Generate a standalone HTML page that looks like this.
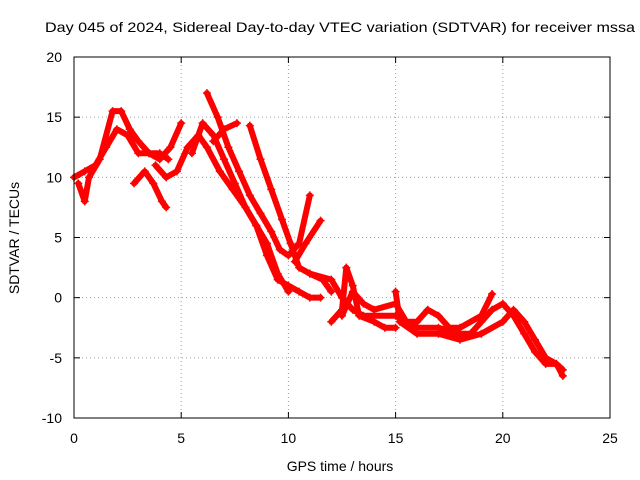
<!DOCTYPE html>
<html><head><meta charset="utf-8"><style>
body{margin:0;background:#fff;}
svg{display:block;font-family:"Liberation Sans",sans-serif;}
</style></head><body>
<svg id="chart" width="640" height="480">
<text x="45" y="32" font-size="14" textLength="590" lengthAdjust="spacingAndGlyphs">Day 045 of 2024, Sidereal Day-to-day VTEC variation (SDTVAR) for receiver mssa</text>
<text x="340" y="471" text-anchor="middle" font-size="14">GPS time / hours</text>
<text x="19" y="238" text-anchor="middle" font-size="14" transform="rotate(-90 19 238)">SDTVAR / TECUs</text>
<g id="grid"></g>
<g id="series"></g>
<rect x="74" y="57" width="536" height="361" fill="none" stroke="#000"/>
</svg>
<script>
const xTicks=[0,5,10,15,20,25];
const yTicks=[-10,-5,0,5,10,15,20];
const trackA=[[0,10],[0.5,10.5],[1,11],[1.5,12.5],[2,14],[2.5,13.5],[3,12],[3.5,12],[4,11.5],[4.5,12.5],[5,14.5]];
const trackB=[[0.2,9.5],[0.5,8],[0.7,10],[1.2,11.5],[1.8,15.5],[2.2,15.5],[2.6,14],[3,13],[3.5,12],[4,12],[4.4,11.5]];
const trackC=[[2.8,9.5],[3.3,10.5],[3.7,9.5],[4.1,8],[4.3,7.5]];
const trackD=[[3.8,11],[4.3,10],[4.8,10.5],[5.3,12.5],[5.8,13.5],[6.2,12.5],[6.8,10.5],[7.4,9],[8,7.5],[8.5,6],[9,4.5],[9.5,2],[10,0.5]];
const trackE=[[5.5,12],[6,14.5],[6.5,13.5],[7,11.5],[7.5,9.5],[8,7.5],[8.5,6],[9,3.5],[9.5,1.5],[10,1],[10.5,0.5],[11,0],[11.5,0]];
const trackF=[[6.2,17],[6.7,15],[7.2,12.5],[7.7,10.5],[8.2,8.5],[8.7,7],[9.2,5.5],[9.6,4],[10,3.5],[10.5,4.5],[11,8.5]];
const trackG=[[6.5,13],[7,14],[7.6,14.5]];
const trackH=[[8.2,14.3],[8.7,11.5],[9.2,9],[9.7,6.5],[10.1,4.5],[10.5,2.5],[11,2],[11.6,1.5],[12,0.5]];
const trackH2=[[10.3,3],[10.8,4.5],[11.5,6.4]];
const trackI=[[11,2],[12,1.5],[12.5,0],[13,-1],[13.5,-1.5],[14,-1.5],[15,-1.5],[15.5,-2],[16,-2.5],[17,-2.5],[18,-3],[18.5,-3],[19,-2],[19.5,-1],[20,-0.5],[20.5,-1.5],[21,-3],[21.5,-4.5],[22,-5.5],[22.5,-5.5],[22.8,-6.5]];
const trackJ=[[12.5,-1.5],[13,0.5],[13.5,-0.5],[14,-1],[15,-0.5],[15.5,-2],[16,-2],[16.5,-1],[17,-1.5],[17.5,-2.5],[18,-2.5],[19,-1.5],[19.5,0.3]];
const trackK=[[15,0.5],[15.2,-2],[16,-3],[17,-3],[18,-3.5],[19,-3],[20,-2],[20.5,-1],[21,-2],[21.5,-3.5],[22,-5],[22.5,-5.5],[22.8,-6]];
const trackL=[[12,-2],[12.5,-1],[12.7,2.5],[13,1],[13.3,-1.5],[14,-2],[14.5,-2.5],[15,-2.5]];
const tracks=[trackA,trackB,trackC,trackD,trackE,trackF,trackG,trackH,trackH2,trackI,trackJ,trackK,trackL];

const X0=74,X1=610,Y0=418,Y1=57;
const xs=v=>X0+(v-0)/(25-0)*(X1-X0);
const ys=v=>Y0-(v+10)/(30)*(Y0-Y1);
const NS="http://www.w3.org/2000/svg";
const grid=document.getElementById('grid');
const ser=document.getElementById('series');
function mk(tag,attrs,parent){const e=document.createElementNS(NS,tag);for(const k in attrs)e.setAttribute(k,attrs[k]);parent.appendChild(e);return e;}
xTicks.forEach(t=>{
  const x=xs(t);
  if(t>0&&t<25){const g=mk('line',{x1:x,x2:x,y1:Y1,y2:Y0,stroke:'#a0a0a0','stroke-dasharray':'1,3'},grid);
  
  }
  mk('line',{x1:x,x2:x,y1:Y0,y2:Y0-6,stroke:'#000'},grid);
  mk('line',{x1:x,x2:x,y1:Y1,y2:Y1+6,stroke:'#000'},grid);
  const l=mk('text',{x:x,y:443,'text-anchor':'middle','font-size':'14'},grid);
  l.textContent=t;
  
  
});
yTicks.forEach(t=>{
  const y=ys(t);
  if(t>-10&&t<20){const g=mk('line',{x1:X0,x2:X1,y1:y,y2:y,stroke:'#a0a0a0','stroke-dasharray':'1,3'},grid);
  
  }
  mk('line',{x1:X0,x2:X0+6,y1:y,y2:y,stroke:'#000'},grid);
  mk('line',{x1:X1,x2:X1-6,y1:y,y2:y,stroke:'#000'},grid);
  const l=mk('text',{x:62,y:y+5,'text-anchor':'end','font-size':'14'},grid);
  l.textContent=t;
  
  
});
tracks.forEach(tr=>{
  const p=mk('polyline',{points:tr.map(d=>xs(d[0])+','+ys(d[1])).join(' '),fill:'none',stroke:'#f00','stroke-width':6,'stroke-linejoin':'round','stroke-linecap':'round'},ser);
  
  
  tr.forEach(d=>{
    const x=xs(d[0]),y=ys(d[1]);
    const m=mk('path',{d:`M${x-4},${y}H${x+4}M${x},${y-4}V${y+4}`,stroke:'#f00','stroke-width':1.5},ser);
    
    
  });
});
</script>
</body></html>
